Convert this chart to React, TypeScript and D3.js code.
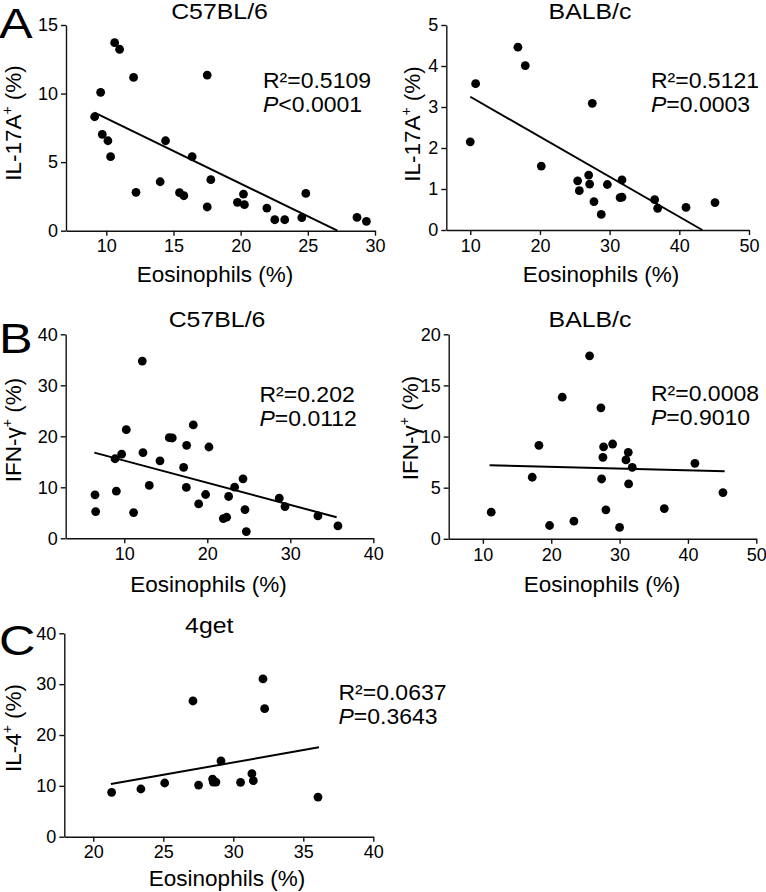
import React, { useEffect, useRef } from 'react';
import * as d3 from 'd3';

type Pt = [number, number];

// A, C57BL/6 : eosinophils (%) vs IL-17A+ (%)
const a1Points: Pt[] = [
  [9.13, 8.31], [9.58, 10.09], [10.62, 13.71], [10.99, 13.23], [12.03, 11.18],
  [9.7, 7.03], [10.12, 6.56], [10.32, 5.4], [12.21, 2.8], [14.01, 3.57],
  [14.41, 6.56], [15.45, 2.77], [15.77, 2.55], [16.39, 5.4], [17.51, 11.35],
  [17.51, 1.73], [17.78, 3.72], [19.76, 2.07], [20.21, 2.67], [20.28, 1.9],
  [21.95, 1.65], [22.54, 0.8], [23.28, 0.8], [24.55, 0.95], [24.85, 2.72],
  [28.66, 0.97], [29.36, 0.68],
];
const a1Fit: Pt[] = [[9.13, 8.61], [27.2, 0]];

// A, BALB/c : eosinophils (%) vs IL-17A+ (%)
const a2Points: Pt[] = [
  [10.0, 2.15], [10.77, 3.57], [16.84, 4.46], [17.89, 4.01], [20.19, 1.56],
  [25.41, 1.2], [25.65, 0.96], [26.99, 1.34], [27.13, 1.12], [27.51, 3.09],
  [27.75, 0.69], [28.8, 0.38], [29.67, 1.11], [31.77, 1.22], [31.77, 0.8],
  [31.5, 0.79], [36.46, 0.74], [36.89, 0.53], [40.96, 0.55], [45.12, 0.67],
];
const a2Fit: Pt[] = [[10.0, 3.25], [43.3, 0]];

// B, C57BL/6 : eosinophils (%) vs IFN-γ+ (%)
const b1Points: Pt[] = [
  [6.47, 8.52], [6.55, 5.25], [8.88, 15.6], [9.04, 9.25], [9.68, 16.5],
  [10.24, 21.3], [11.12, 5.05], [12.17, 34.75], [12.25, 16.8], [13.01, 10.36],
  [14.3, 15.2], [15.42, 19.74], [15.78, 19.67], [17.15, 13.9], [17.47, 9.97],
  [17.51, 18.23], [18.31, 22.23], [18.96, 6.75], [19.8, 8.59], [20.2, 17.9],
  [21.93, 3.87], [22.33, 4.13], [22.57, 8.2], [23.29, 10.03], [24.3, 11.67],
  [24.54, 5.64], [24.7, 1.31], [28.67, 7.87], [29.36, 6.23], [33.33, 4.39],
  [35.74, 2.43],
];
const b1Fit: Pt[] = [[6.39, 16.8], [35.58, 4.13]];

// B, BALB/c : eosinophils (%) vs IFN-γ+ (%)
const b2Points: Pt[] = [
  [11.22, 2.6], [17.22, 6.02], [18.2, 9.14], [19.76, 1.3], [21.61, 13.85],
  [23.32, 1.72], [25.61, 17.89], [27.27, 12.81], [27.37, 5.85], [27.56, 7.97],
  [27.66, 9.0], [28.0, 2.83], [28.98, 9.27], [30.0, 1.11], [30.93, 7.71],
  [31.27, 8.46], [31.32, 5.37], [31.85, 6.99], [36.54, 2.96], [41.02, 7.38],
  [45.12, 4.52],
];
const b2Fit: Pt[] = [[10.98, 7.19], [45.37, 6.6]];

// C, 4get : eosinophils (%) vs IL-4+ (%)
const cPoints: Pt[] = [
  [21.31, 8.72], [23.4, 9.38], [25.1, 10.56], [27.12, 26.69], [27.52, 10.16],
  [28.52, 11.34], [28.57, 10.75], [28.76, 10.75], [29.12, 14.89], [30.52, 10.69],
  [31.33, 12.39], [31.43, 11.02], [32.12, 31.02], [32.24, 25.18], [36.05, 7.8],
];
const cFit: Pt[] = [[21.26, 10.36], [36.12, 17.57]];

const xTicksA1 = [10, 15, 20, 25, 30];
const yTicksA1 = [0, 5, 10, 15];
const xTicks10to50 = [10, 20, 30, 40, 50];
const yTicksA2 = [0, 1, 2, 3, 4, 5];
const xTicksB1 = [10, 20, 30, 40];
const yTicks0to40 = [0, 10, 20, 30, 40];
const yTicksB2 = [0, 5, 10, 15, 20];
const xTicksC = [20, 25, 30, 35, 40];

interface Layout {
  x0: number; x1: number; y0: number; y1: number;
  titleX: number; titleY: number;
  statX: number; statY: number;
  xLabelX: number; xLabelY: number;
  yLabelX: number; yLabelY: number;
  letterY?: number;
}

interface Panel {
  letter?: string;
  title: string;
  yLabel: string;
  points: Pt[];
  fit: Pt[];
  r2: string;
  p: string;
  xDomain: [number, number];
  yDomain: [number, number];
  xTicks: number[];
  yTicks: number[];
  layout: Layout;
}

const panels: Panel[] = [
  {
    letter: 'A', title: 'C57BL/6', yLabel: 'IL-17A', points: a1Points, fit: a1Fit,
    r2: '0.5109', p: '<0.0001', xDomain: [7, 30], yDomain: [0, 15],
    xTicks: xTicksA1, yTicks: yTicksA1,
    layout: { x0: 66, x1: 375, y0: 230.7, y1: 25, titleX: 219.5, titleY: 18.5,
      statX: 263, statY: 88, xLabelX: 215, xLabelY: 282, yLabelX: 21, yLabelY: 123, letterY: 38 },
  },
  {
    title: 'BALB/c', yLabel: 'IL-17A', points: a2Points, fit: a2Fit,
    r2: '0.5121', p: '=0.0003', xDomain: [6.56, 50], yDomain: [0, 5],
    xTicks: xTicks10to50, yTicks: yTicksA2,
    layout: { x0: 446.3, x1: 749, y0: 230, y1: 25, titleX: 590, titleY: 18.5,
      statX: 651, statY: 88, xLabelX: 601, xLabelY: 282, yLabelX: 420, yLabelY: 124 },
  },
  {
    letter: 'B', title: 'C57BL/6', yLabel: 'IFN-γ', points: b1Points, fit: b1Fit,
    r2: '0.202', p: '=0.0112', xDomain: [2.94, 40], yDomain: [0, 40],
    xTicks: xTicksB1, yTicks: yTicks0to40,
    layout: { x0: 65.7, x1: 373.3, y0: 538.3, y1: 334.3, titleX: 217, titleY: 327,
      statX: 259.5, statY: 401.5, xLabelX: 208.5, xLabelY: 592, yLabelX: 21, yLabelY: 430, letterY: 353 },
  },
  {
    title: 'BALB/c', yLabel: 'IFN-γ', points: b2Points, fit: b2Fit,
    r2: '0.0008', p: '=0.9010', xDomain: [5, 50], yDomain: [0, 20],
    xTicks: xTicks10to50, yTicks: yTicksB2,
    layout: { x0: 448.7, x1: 756.3, y0: 538.8, y1: 334.3, titleX: 590, titleY: 327,
      statX: 651, statY: 401, xLabelX: 602, xLabelY: 592, yLabelX: 418, yLabelY: 428 },
  },
  {
    letter: 'C', title: '4get', yLabel: 'IL-4', points: cPoints, fit: cFit,
    r2: '0.0637', p: '=0.3643', xDomain: [17.93, 40], yDomain: [0, 40],
    xTicks: xTicksC, yTicks: yTicks0to40,
    layout: { x0: 64.3, x1: 373.3, y0: 836.7, y1: 633.3, titleX: 209.3, titleY: 633,
      statX: 338.5, statY: 700, xLabelX: 227, xLabelY: 886, yLabelX: 21, yLabelY: 728, letterY: 655 },
  },
];

const FONT = '"Liberation Sans", Arial, Helvetica, sans-serif';
const WIDTH = 766;
const HEIGHT = 892;

const App: React.FC = () => {
  const svgRef = useRef<SVGSVGElement>(null);

  useEffect(() => {
    document.body.style.margin = '0';
    if (!svgRef.current) return;

    const svg = d3.select(svgRef.current);
    svg.selectAll('*').remove();

    panels.forEach(panel => {
      const L = panel.layout;
      const x = d3.scaleLinear().domain(panel.xDomain).range([L.x0, L.x1]);
      const y = d3.scaleLinear().domain(panel.yDomain).range([L.y0, L.y1]);
      const g = svg.append('g');

      // axes
      const xAxis = g.append('g')
        .attr('transform', `translate(0,${L.y0})`)
        .call(d3.axisBottom(x)
          .tickValues(panel.xTicks)
          .tickFormat(d3.format('d'))
          .tickSize(5).tickSizeOuter(0).tickPadding(4));
      const yAxis = g.append('g')
        .attr('transform', `translate(${L.x0},0)`)
        .call(d3.axisLeft(y)
          .tickValues(panel.yTicks)
          .tickFormat(d3.format('d'))
          .tickSize(5).tickSizeOuter(0).tickPadding(3));

      [xAxis, yAxis].forEach(ax => {
        ax.attr('font-family', FONT).attr('font-size', 18);
        ax.select('.domain').attr('stroke', '#111').attr('stroke-width', 1.4);
        ax.selectAll('.tick line').attr('stroke', '#111').attr('stroke-width', 1.4);
        ax.selectAll('.tick text').attr('fill', '#000');
      });

      // regression line
      g.append('line')
        .attr('x1', x(panel.fit[0][0]))
        .attr('y1', y(panel.fit[0][1]))
        .attr('x2', x(panel.fit[1][0]))
        .attr('y2', y(panel.fit[1][1]))
        .attr('stroke', '#000')
        .attr('stroke-width', 2);

      // points
      g.selectAll('circle')
        .data(panel.points)
        .enter().append('circle')
        .attr('cx', d => x(d[0]))
        .attr('cy', d => y(d[1]))
        .attr('r', 4.4)
        .attr('fill', '#000');

      // title (the original lettering is a little wider than Arial)
      g.append('text')
        .attr('transform', `translate(${L.titleX},${L.titleY}) scale(1.13,1)`)
        .attr('text-anchor', 'middle')
        .attr('font-family', FONT)
        .attr('font-size', 22)
        .text(panel.title);

      // statistics
      g.append('text')
        .attr('transform', `translate(${L.statX},${L.statY}) scale(1.07,1)`)
        .attr('font-family', FONT)
        .attr('font-size', 21.5)
        .text(`R²=${panel.r2}`);
      const pText = g.append('text')
        .attr('transform', `translate(${L.statX},${L.statY + 24}) scale(1.07,1)`)
        .attr('font-family', FONT)
        .attr('font-size', 21.5);
      pText.append('tspan').attr('font-style', 'italic').text('P');
      pText.append('tspan').text(panel.p);

      // axis labels
      g.append('text')
        .attr('x', L.xLabelX)
        .attr('y', L.xLabelY)
        .attr('text-anchor', 'middle')
        .attr('font-family', FONT)
        .attr('font-size', 22.5)
        .text('Eosinophils (%)');

      const yl = g.append('text')
        .attr('transform', `translate(${L.yLabelX},${L.yLabelY}) rotate(-90)`)
        .attr('text-anchor', 'middle')
        .attr('font-family', FONT)
        .attr('font-size', 22.5);
      yl.append('tspan').text(panel.yLabel);
      yl.append('tspan').attr('font-size', 14).attr('dy', -9).text('+');
      yl.append('tspan').attr('dy', 9).text(' (%)');

      if (panel.letter) {
        g.append('text')
          .attr('transform', `translate(-1,${L.letterY}) scale(1.2,1)`)
          .attr('font-family', FONT)
          .attr('font-size', 42)
          .text(panel.letter);
      }
    });
  }, []);

  return (
    <svg
      ref={svgRef}
      width={WIDTH}
      height={HEIGHT}
      style={{ display: 'block', background: '#fff' }}
    />
  );
};

export default App;
